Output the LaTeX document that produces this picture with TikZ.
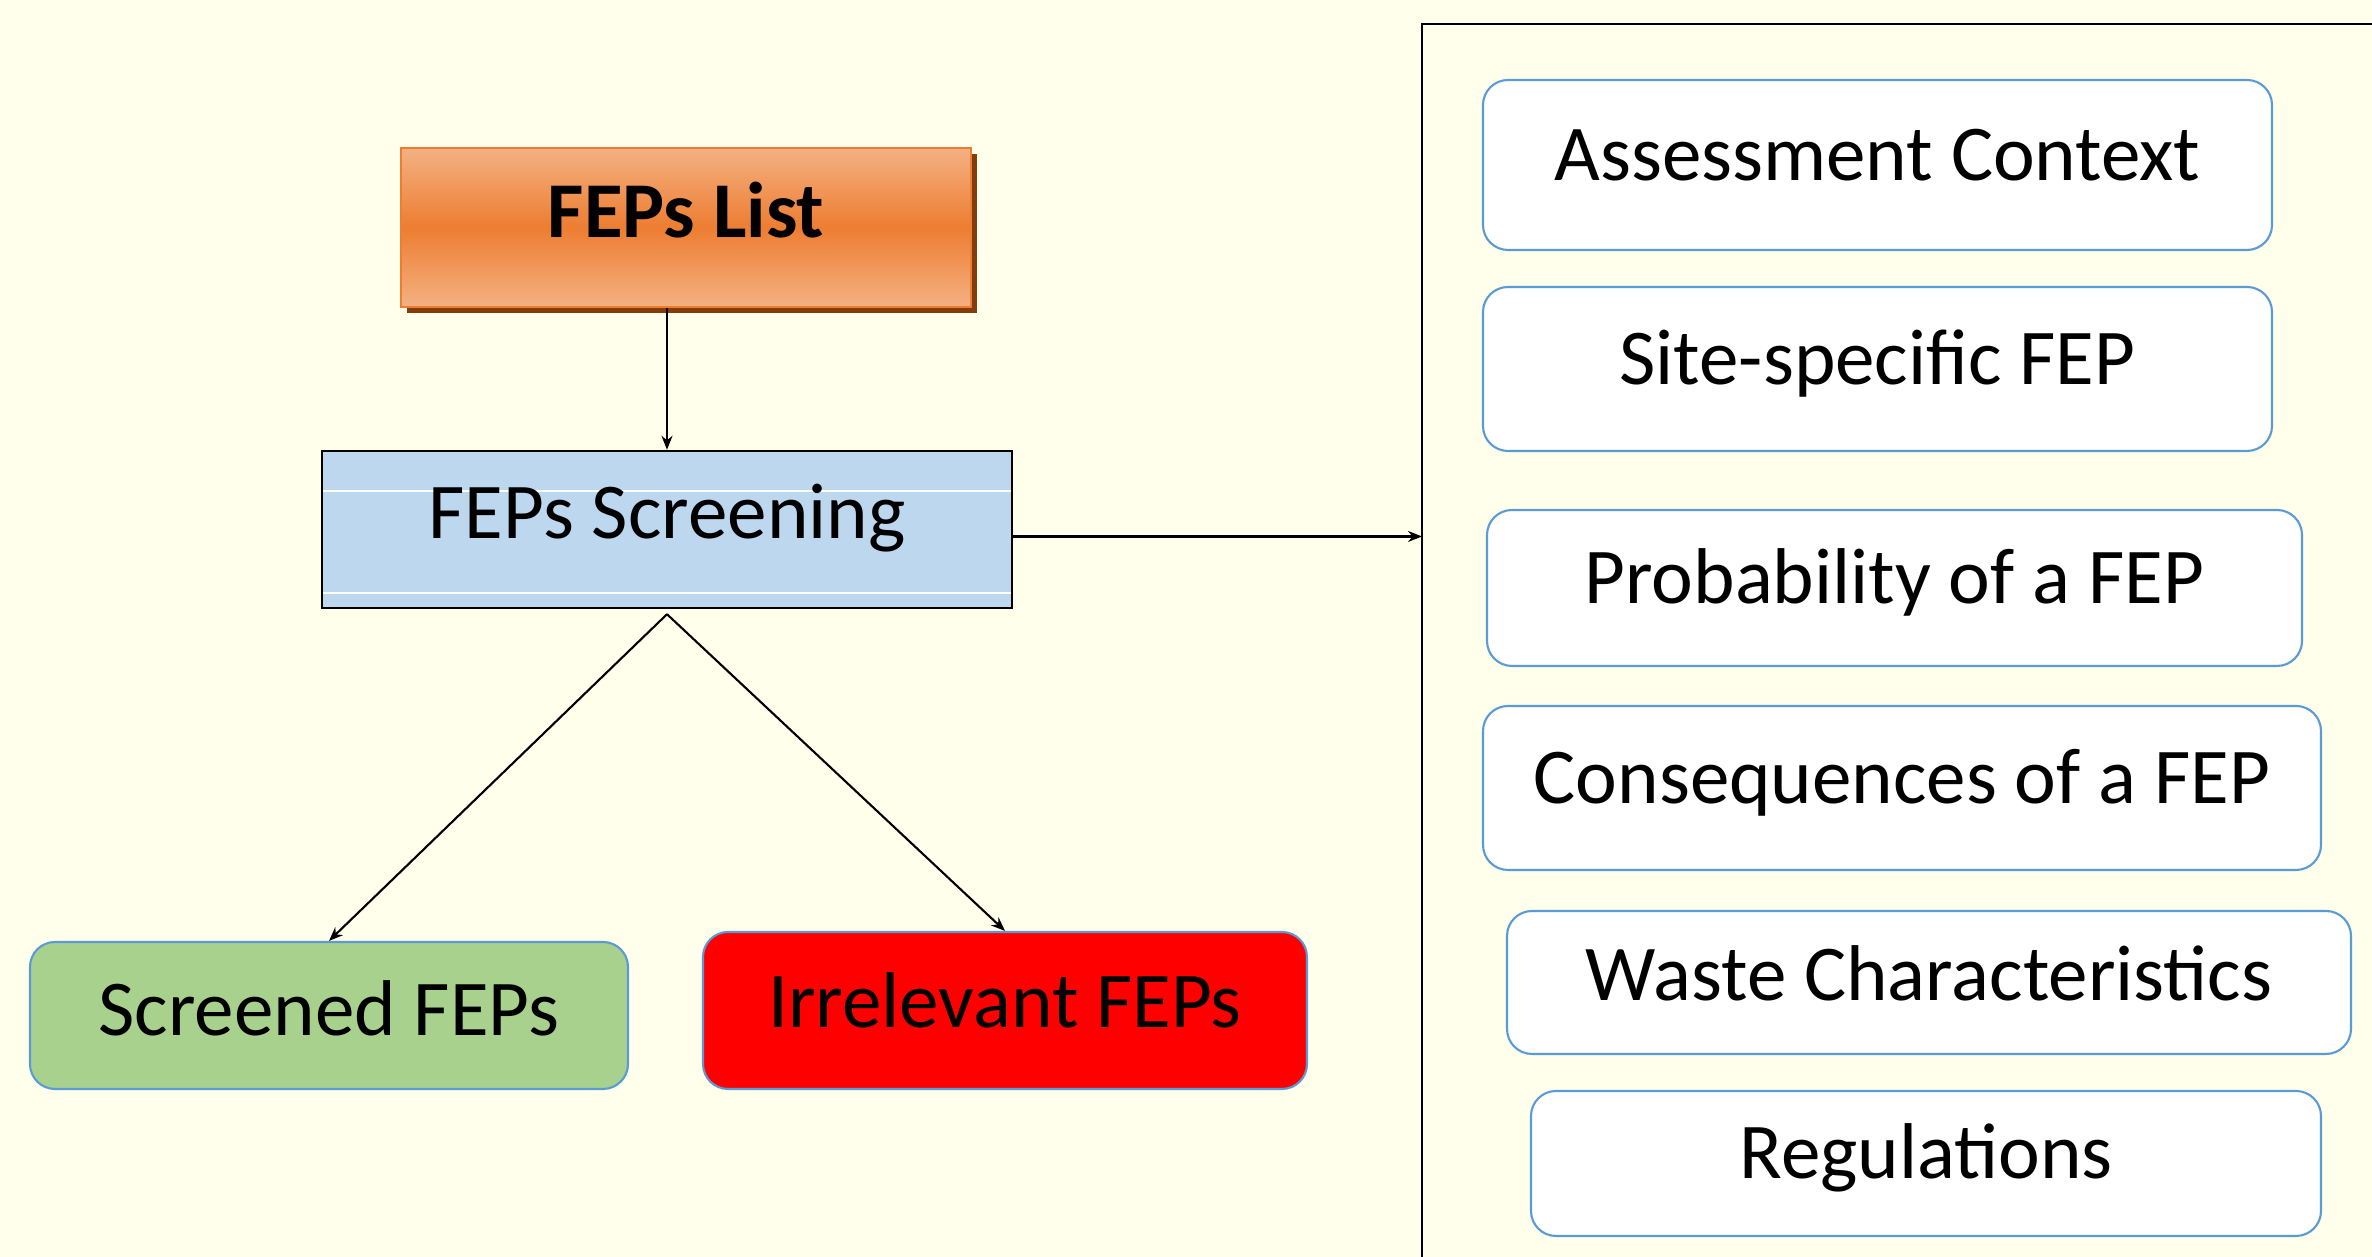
\documentclass[tikz,border=0pt]{standalone}
\usepackage{fontspec}
\setmainfont{Carlito}
\usepackage{xcolor}
\usepackage{tikz}
\usetikzlibrary{arrows.meta, shadows}

\definecolor{bgyellow}{RGB}{255,255,235}
\definecolor{fepsorange}{RGB}{237,125,49}
\definecolor{fepslight}{RGB}{244,177,131}
\definecolor{fepsshadow}{RGB}{132,60,12}
\definecolor{screenblue}{RGB}{189,215,238}
\definecolor{keptgreen}{RGB}{169,209,142}
\definecolor{edgeblue}{RGB}{91,155,213}

\begin{document}
\begin{tikzpicture}[
        font=\fontsize{22.5}{27}\selectfont,
        fepslist/.style={
            draw=fepsorange,
            line width=0.8pt,
            top color=fepslight,
            bottom color=fepslight,
            middle color=fepsorange,
            minimum width=5.7cm,
            minimum height=1.59cm,
            font=\fontsize{22.5}{27}\selectfont\bfseries,
            text height=.7em, text depth=.13em,
            drop shadow={shadow xshift=0.6mm, shadow yshift=-0.6mm, fill=fepsshadow, opacity=1}
        },
        screenbox/.style={
            draw,
            line width=0.7pt,
            fill=screenblue,
            minimum width=6.9cm,
            minimum height=1.57cm,
            text height=.7em, text depth=.21em,
            path picture={
                \draw[white, line width=0.6pt]
                    ([yshift=-4mm]path picture bounding box.north west) -- ([yshift=-4mm]path picture bounding box.north east)
                    ([yshift=1.5mm]path picture bounding box.south west) -- ([yshift=1.5mm]path picture bounding box.south east);
            }
        },
        result/.style={
            draw=edgeblue,
            line width=0.6pt,
            rounded corners=2.5mm,
            minimum height=1.5cm,
            text height=1.16em, text depth=0pt
        },
        factor/.style={
            draw=edgeblue,
            line width=0.6pt,
            rounded corners=2.5mm,
            fill=white,
            text height=.88em, text depth=0pt
        },
        arrow/.style={-{Stealth[length=1.4mm, width=1.1mm]}, line width=0.6pt}
    ]
        \fill[bgyellow] (0,0) rectangle (23.72,12.57);
        \useasboundingbox (0,0) rectangle (23.72,12.57);

        \node[fepslist] (list) at (6.86,10.295) {FEPs List};
        \node[screenbox] (screen) at (6.67,7.275) {FEPs Screening};

        \node[result, fill=keptgreen, minimum width=5.98cm, minimum height=1.47cm] (screened) at (3.29,2.415) {Screened FEPs};
        \node[result, fill=red, minimum width=6.04cm, minimum height=1.57cm, text height=.97em] (irrelevant) at (10.05,2.465) {Irrelevant FEPs};

        % panel on the right
        \coordinate (panel) at (14.22,12.33);
        \draw[line width=0.6pt] (23.8,12.33) -- (panel) -- (14.22,-0.1);

        \node[factor, minimum width=7.89cm, minimum height=1.70cm] (context) at (18.775,10.92) {Assessment Context};
        \node[factor, minimum width=7.89cm, minimum height=1.64cm] (site) at (18.775,8.88) {Site-specific FEP};
        \node[factor, minimum width=8.15cm, minimum height=1.56cm] (prob) at (18.945,6.69) {Probability of a FEP};
        \node[factor, minimum width=8.38cm, minimum height=1.64cm] (conseq) at (19.02,4.69) {Consequences of a FEP};
        \node[factor, minimum width=8.44cm, minimum height=1.43cm, text height=1.04em] (waste) at (19.29,2.745) {Waste Characteristics};
        \node[factor, minimum width=7.90cm, minimum height=1.45cm] (regs) at (19.26,0.935) {Regulations};

        \draw[arrow] (list.south -| screen.north) -- (screen.north);
        \draw[arrow] ([yshift=-0.7mm]screen.east) -- ([yshift=-0.7mm]screen.east -| panel);
        \draw[arrow] ([yshift=-0.5mm]screen.south) -- (screened.north);
        \draw[arrow] ([yshift=-0.5mm]screen.south) -- (irrelevant.north);
    \end{tikzpicture}
\end{document}
